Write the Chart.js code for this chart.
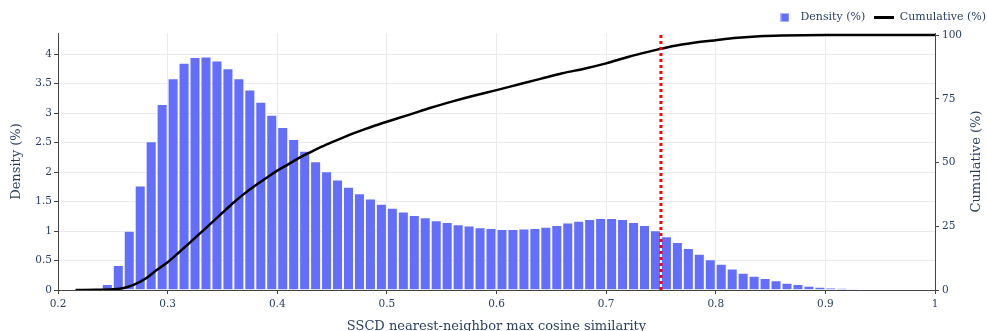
<!DOCTYPE html>
<html>
<head>
<meta charset="utf-8">
<script src="https://cdn.jsdelivr.net/npm/chart.js@4.4.1/dist/chart.umd.min.js"></script>
<style>
  html, body { margin: 0; padding: 0; background: #fff; }
  #wrap { width: 987px; height: 331px; }
</style>
</head>
<body>
<div id="wrap"><canvas id="simChart"></canvas></div>
<script>
// histogram bins (centre of each 0.01-wide bin) and density in % per bin
const binCenters = [
  0.245, 0.255, 0.265, 0.275, 0.285, 0.295, 0.305, 0.315, 0.325, 0.335,
  0.345, 0.355, 0.365, 0.375, 0.385, 0.395, 0.405, 0.415, 0.425, 0.435,
  0.445, 0.455, 0.465, 0.475, 0.485, 0.495, 0.505, 0.515, 0.525, 0.535,
  0.545, 0.555, 0.565, 0.575, 0.585, 0.595, 0.605, 0.615, 0.625, 0.635,
  0.645, 0.655, 0.665, 0.675, 0.685, 0.695, 0.705, 0.715, 0.725, 0.735,
  0.745, 0.755, 0.765, 0.775, 0.785, 0.795, 0.805, 0.815, 0.825, 0.835,
  0.845, 0.855, 0.865, 0.875, 0.885, 0.895, 0.905, 0.915, 0.925
];
const density = [
  0.10, 0.42, 1.00, 1.77, 2.52, 3.15, 3.59, 3.85, 3.95, 3.96,
  3.89, 3.76, 3.59, 3.40, 3.19, 2.97, 2.76, 2.56, 2.36, 2.18,
  2.01, 1.87, 1.75, 1.64, 1.55, 1.46, 1.39, 1.33, 1.27, 1.23,
  1.18, 1.15, 1.11, 1.09, 1.06, 1.05, 1.03, 1.03, 1.04, 1.05,
  1.07, 1.10, 1.14, 1.17, 1.20, 1.22, 1.22, 1.20, 1.15, 1.10,
  1.01, 0.91, 0.81, 0.71, 0.61, 0.52, 0.44, 0.36, 0.29, 0.24,
  0.20, 0.16, 0.12, 0.10, 0.07, 0.05, 0.04, 0.03, 0.02
];

// cumulative share (%) sampled along the similarity axis
const cumX = [
  0.216, 0.235, 0.25, 0.26, 0.27, 0.28, 0.29, 0.30, 0.31, 0.32,
  0.33, 0.34, 0.35, 0.36, 0.37, 0.38, 0.39, 0.40, 0.41, 0.42,
  0.43, 0.44, 0.45, 0.46, 0.47, 0.48, 0.49, 0.50, 0.52, 0.54,
  0.56, 0.58, 0.60, 0.62, 0.64, 0.66, 0.68, 0.70, 0.72, 0.74,
  0.75, 0.76, 0.78, 0.80, 0.82, 0.84, 0.86, 0.90, 1.00
];
const cumY = [
  0, 0.1, 0.3, 0.8, 2.2, 4.5, 7.8, 10.9, 14.6, 18.5,
  22.4, 26.3, 30.3, 34.2, 37.8, 41.0, 43.9, 46.8, 49.3, 51.8,
  54.0, 56.1, 58.0, 59.8, 61.5, 63.1, 64.6, 66.0, 68.7, 71.5,
  74.0, 76.3, 78.4, 80.6, 82.8, 85.0, 86.8, 88.9, 91.4, 93.6,
  94.6, 95.6, 97.0, 98.0, 98.9, 99.5, 99.8, 100, 100
];

const threshold = 0.75;

const xTicks = [0.2, 0.3, 0.4, 0.5, 0.6, 0.7, 0.8, 0.9, 1];
const densityTicks = [0, 0.5, 1, 1.5, 2, 2.5, 3, 3.5, 4];
const cumTicks = [0, 25, 50, 75, 100];

const FONT = "'DejaVu Serif', serif";
const TEXT = "#2a3f5f";
const AXIS = "#444";
const GRID = "#ebebeb";
const BAR = "#636efa";

// small canvases used as legend symbols
function swatch(w, h, fill, edge) {
  const c = document.createElement("canvas");
  c.width = w;
  c.height = h;
  const g = c.getContext("2d");
  g.fillStyle = fill;
  g.fillRect(0, 0, w, h);
  if (edge) {
    g.strokeStyle = edge;
    g.lineWidth = 1;
    g.strokeRect(0.5, 0.5, w - 1, h - 1);
  }
  return c;
}
const barSymbol = swatch(9, 9, BAR, "rgba(255,255,255,0.5)");
const lineSymbol = swatch(20, 3, "#000");

// right-hand axis title, reading bottom to top like the left one;
// also nudges the legend to the right edge
const extras = {
  id: "extras",
  afterLayout(chart) {
    chart.legend.left += 8;
    chart.legend.right += 8;
  },
  afterDraw(chart) {
    const { ctx, chartArea } = chart;
    ctx.save();
    ctx.translate(977, (chartArea.top + chartArea.bottom) / 2);
    ctx.rotate(-Math.PI / 2);
    ctx.font = "13px " + FONT;
    ctx.fillStyle = TEXT;
    ctx.textAlign = "center";
    ctx.textBaseline = "middle";
    ctx.fillText("Cumulative (%)", 0, 0);
    ctx.restore();
  }
};

new Chart(document.getElementById("simChart"), {
  type: "bar",
  data: {
    datasets: [
      {
        type: "line",
        label: "threshold",
        data: [{ x: threshold, y: 0 }, { x: threshold, y: 100.8 }],
        yAxisID: "y2",
        borderColor: "#ff0000",
        borderWidth: 3,
        borderDash: [3, 3],
        pointRadius: 0,
        order: 0
      },
      {
        type: "line",
        label: "Cumulative (%)",
        data: cumX.map((x, i) => ({ x: x, y: cumY[i] })),
        yAxisID: "y2",
        borderColor: "#000",
        borderWidth: 2.5,
        cubicInterpolationMode: "monotone",
        pointRadius: 0,
        order: 1
      },
      {
        label: "Density (%)",
        data: binCenters.map((x, i) => ({ x: x, y: density[i] })),
        yAxisID: "y",
        backgroundColor: BAR,
        borderColor: "rgba(255,255,255,0.55)",
        borderWidth: 0.8,
        barPercentage: 0.97,
        categoryPercentage: 1,
        order: 2
      }
    ]
  },
  options: {
    responsive: true,
    maintainAspectRatio: false,
    animation: false,
    layout: { padding: { top: 3, right: 0, bottom: 0, left: 0 } },
    plugins: {
      tooltip: { enabled: false },
      legend: {
        position: "top",
        align: "end",
        reverse: true,
        labels: {
          font: { family: FONT, size: 11 },
          color: TEXT,
          usePointStyle: true,
          pointStyleWidth: 20,
          padding: 9,
          filter: (item) => item.text !== "threshold",
          generateLabels(chart) {
            const items = Chart.defaults.plugins.legend.labels.generateLabels(chart);
            items.forEach((it) => {
              it.pointStyle = it.text === "Density (%)" ? barSymbol : lineSymbol;
            });
            return items;
          }
        }
      }
    },
    scales: {
      x: {
        type: "linear",
        min: 0.2,
        max: 1,
        offset: false,
        afterBuildTicks: (axis) => { axis.ticks = xTicks.map((v) => ({ value: v })); },
        afterFit: (axis) => { axis.height = 41; },
        grid: { color: GRID, offset: false, tickLength: 4, tickColor: AXIS },
        border: { display: true, color: AXIS },
        ticks: {
          font: { family: FONT, size: 10.5 },
          color: TEXT,
          padding: 4,
          maxRotation: 0,
          autoSkip: false,
          callback: (v) => String(v)
        },
        title: {
          display: true,
          text: "SSCD nearest-neighbor max cosine similarity",
          font: { family: FONT, size: 13 },
          color: TEXT,
          padding: { top: 0, bottom: -3 }
        }
      },
      y: {
        position: "left",
        min: 0,
        max: 4.36,
        afterBuildTicks: (axis) => { axis.ticks = densityTicks.map((v) => ({ value: v })); },
        afterFit: (axis) => { axis.width = 58; },
        grid: { color: GRID, tickLength: 4, tickColor: AXIS },
        border: { display: true, color: AXIS },
        ticks: {
          font: { family: FONT, size: 10.5 },
          color: TEXT,
          padding: 2,
          callback: (v) => String(v)
        },
        title: {
          display: true,
          text: "Density (%)",
          font: { family: FONT, size: 13 },
          color: TEXT,
          padding: { top: 9, bottom: 0 }
        }
      },
      y2: {
        position: "right",
        min: 0,
        max: 100.8,
        afterBuildTicks: (axis) => { axis.ticks = cumTicks.map((v) => ({ value: v })); },
        afterFit: (axis) => { axis.width = 52; },
        grid: { drawOnChartArea: false, tickLength: 4, tickColor: AXIS },
        border: { display: true, color: AXIS },
        ticks: {
          font: { family: FONT, size: 10.5 },
          color: TEXT,
          padding: 3,
          callback: (v) => String(v)
        }
      }
    }
  },
  plugins: [extras]
});
</script>
</body>
</html>
